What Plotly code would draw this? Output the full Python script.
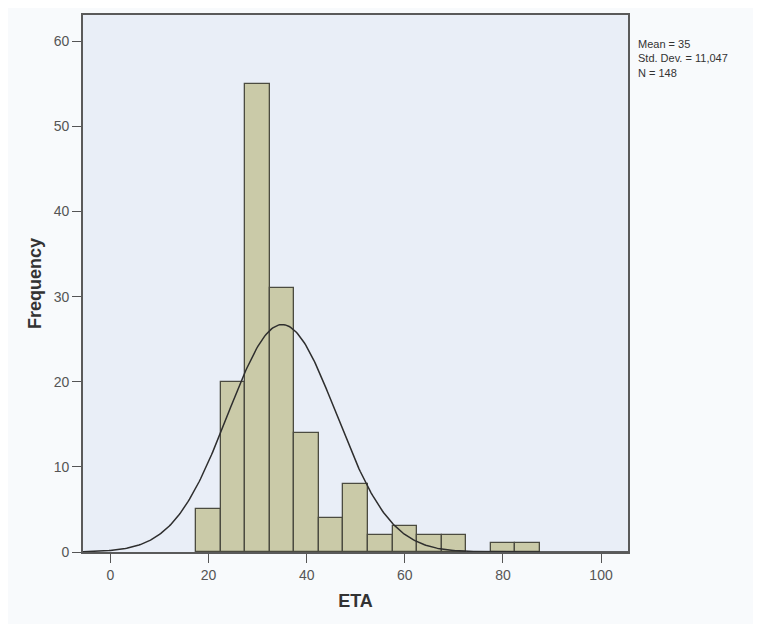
import numpy as np
import plotly.graph_objects as go

# Histogram data (bin centres, bin width 5)
bin_centers = [20, 25, 30, 35, 40, 45, 50, 55, 60, 65, 70, 75, 80, 85]
counts = [5, 20, 55, 31, 14, 4, 8, 2, 3, 2, 2, 0, 1, 1]
bin_width = 5

# Summary statistics shown in the chart
mean_val = 35
std_dev = 11.047
n_obs = 148

x_ticks = [0, 20, 40, 60, 80, 100]
y_ticks = [0, 10, 20, 30, 40, 50, 60]

bx = [c for c, k in zip(bin_centers, counts) if k > 0]
by = [k for k in counts if k > 0]

fig = go.Figure()
fig.add_trace(go.Bar(
    x=bx, y=by, width=bin_width,
    marker=dict(color="#CACAA8", line=dict(color="#4B4B40", width=1.3)),
    hoverinfo="x+y", showlegend=False,
))

xr = [-5.6, 105.5]
xs = np.linspace(xr[0], xr[1], 400)
ys = n_obs * bin_width / (std_dev * np.sqrt(2 * np.pi)) * np.exp(-0.5 * ((xs - mean_val) / std_dev) ** 2)
fig.add_trace(go.Scatter(
    x=xs, y=ys, mode="lines",
    line=dict(color="#2E2E2E", width=1.5),
    hoverinfo="skip", showlegend=False,
))

stats_text = (f"Mean = {mean_val}<br>Std. Dev. = 11,047<br>N = {n_obs}")
fig.add_annotation(
    xref="paper", yref="paper", x=1.0, y=1.0, xshift=8, yshift=-21,
    xanchor="left", yanchor="top", align="left",
    text=stats_text, showarrow=False,
    font=dict(family="Liberation Sans, Arial", size=11, color="#333333"),
)

fig.update_layout(
    width=753, height=616,
    margin=dict(l=75, r=133, t=5, b=72),
    paper_bgcolor="#F8FAFC",
    plot_bgcolor="#E9EEF7",
    bargap=0,
    font=dict(family="Liberation Sans, Arial", size=14, color="#555555"),
    xaxis=dict(
        range=xr, tickvals=x_ticks, ticks="outside", ticklen=9, tickwidth=1.3,
        tickcolor="#555555", showgrid=False, zeroline=False,
        showline=True, linecolor="#5A5A5A", linewidth=1.6, mirror=True,
        title=dict(text="<b>ETA</b>", font=dict(size=18, color="#333333"), standoff=13),
    ),
    yaxis=dict(
        range=[0, 63.1], tickvals=y_ticks, ticks="outside", ticklen=9, tickwidth=1.3,
        tickcolor="#555555", showgrid=False, zeroline=False,
        showline=True, linecolor="#5A5A5A", linewidth=1.6, mirror=True,
        title=dict(text="<b>Frequency</b>", font=dict(size=18, color="#333333"), standoff=8),
    ),
)

fig.write_html("out.html")
